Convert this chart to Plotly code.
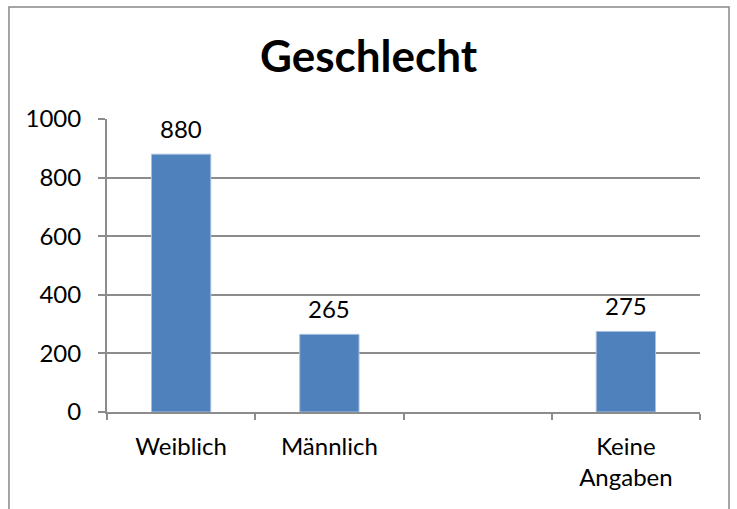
import plotly.graph_objects as go


# ----------------------------------------
# Data
# ----------------------------------------

categories = ["Weiblich", "Männlich", " ", "Keine<br>Angaben"]
values = [880, 265, None, 275]
y_ticks = [0, 200, 400, 600, 800, 1000]

title_text = "Geschlecht"

bar_color = "#4F81BD"
line_color = "#8C8C8C"
font_family = "Lato"


# ----------------------------------------
# Figure
# ----------------------------------------

fig = go.Figure()

fig.add_trace(
    go.Bar(
        x=categories,
        y=values,
        marker=dict(
            color=bar_color,
            line=dict(color="#A7C0DE", width=1)
        ),
        hoverinfo="skip"
    )
)

# value labels above the bars
for cat, val in zip(categories, values):

    if val is None:
        continue

    fig.add_annotation(
        x=cat,
        y=val,
        text=str(val),
        showarrow=False,
        yanchor="middle",
        yshift=26,
        font=dict(family=font_family, size=24, color="#000000")
    )

# chart border (Excel frame)
fig.add_shape(
    type="rect",
    xref="paper",
    yref="paper",
    x0=-0.1653,
    x1=1.0489,
    y0=-0.37,
    y1=1.3823,
    line=dict(color="#888888", width=1.5),
    fillcolor="rgba(0,0,0,0)",
    layer="below"
)

fig.update_layout(

    width=737,
    height=509,

    paper_bgcolor="white",
    plot_bgcolor="white",

    font=dict(
        family=font_family,
        size=24,
        color="#000000"
    ),

    title=dict(
        text=f"<b>{title_text}</b>",
        x=0.5,
        xref="container",
        y=1 - 57 / 509,
        yref="container",
        xanchor="center",
        yanchor="middle",
        font=dict(family=font_family, size=44, color="#000000")
    ),

    margin=dict(
        l=107,
        r=37,
        t=119,
        b=97
    ),

    bargap=0.6,
    showlegend=False
)

fig.update_xaxes(

    type="category",
    showline=True,
    linecolor=line_color,
    linewidth=2,
    ticks="outside",
    tickson="boundaries",
    ticklen=6,
    tickwidth=2,
    tickcolor=line_color,
    showgrid=False,
    ticklabelstandoff=12,
    tickfont=dict(family=font_family, size=24, color="#000000")
)

fig.update_yaxes(

    range=[0, 1000],
    tickvals=y_ticks,
    showline=True,
    linecolor=line_color,
    linewidth=2,
    ticks="outside",
    ticklen=7,
    tickwidth=2,
    tickcolor=line_color,
    showgrid=True,
    gridcolor=line_color,
    gridwidth=2,
    zeroline=False,
    ticklabelstandoff=12,
    tickfont=dict(family=font_family, size=24, color="#000000")
)

# remove the default page margin so the figure sits at the window origin
fig.write_html(
    "out.html",
    config={"displayModeBar": False},
    post_script="document.body.style.margin='0';"
)
